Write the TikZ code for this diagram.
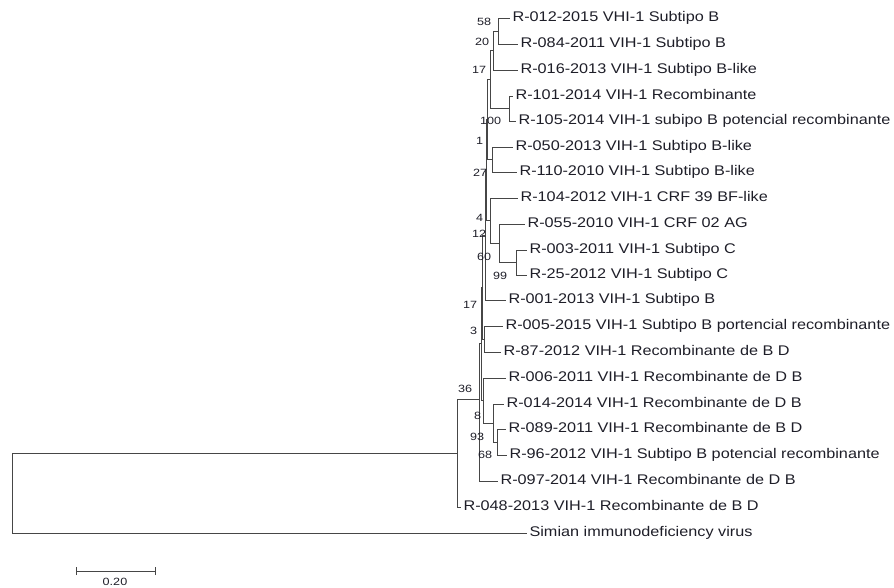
\documentclass[tikz,border=0pt]{standalone}
\usepackage{fontspec}
\setmainfont{Liberation Sans}
\definecolor{linec}{RGB}{70,70,70}
\definecolor{textc}{RGB}{30,30,40}
\begin{document}
\begin{tikzpicture}[x=1pt,y=-1pt,
  leaf/.style={anchor=west,inner sep=2pt,text height=10pt,text depth=3pt,text=textc,font=\fontsize{14}{16}\selectfont,xscale=1.16},
  bs/.style={anchor=east,inner sep=0.5pt,text=textc,font=\fontsize{10.5}{12}\selectfont,xscale=1.2},
  br/.style={draw=linec,line width=0.9pt}]
\useasboundingbox (0,0) rectangle (894,588);
% leaves
\node[leaf] (l1) at (510,18) {R-012-2015 VHI-1 Subtipo B};
\node[leaf] (l2) at (518,44) {R-084-2011 VIH-1 Subtipo B};
\node[leaf] (l3) at (518,70) {R-016-2013 VIH-1 Subtipo B-like};
\node[leaf] (l4) at (513,96) {R-101-2014 VIH-1 Recombinante};
\node[leaf] (l5) at (516,121) {R-105-2014 VIH-1 subipo B potencial recombinante};
\node[leaf] (l6) at (513,147) {R-050-2013 VIH-1 Subtipo B-like};
\node[leaf] (l7) at (517,172) {R-110-2010 VIH-1 Subtipo B-like};
\node[leaf] (l8) at (518,198) {R-104-2012 VIH-1 CRF 39 BF-like};
\node[leaf] (l9) at (525,224) {R-055-2010 VIH-1 CRF 02 AG};
\node[leaf] (l10) at (527,250) {R-003-2011 VIH-1 Subtipo C};
\node[leaf] (l11) at (527,275) {R-25-2012 VIH-1 Subtipo C};
\node[leaf] (l12) at (506,300) {R-001-2013 VIH-1 Subtipo B};
\node[leaf] (l13) at (503,326) {R-005-2015 VIH-1 Subtipo B portencial recombinante};
\node[leaf] (l14) at (501,352) {R-87-2012 VIH-1 Recombinante de B D};
\node[leaf] (l15) at (506,378) {R-006-2011 VIH-1 Recombinante de D B};
\node[leaf] (l16) at (504,404) {R-014-2014 VIH-1 Recombinante de D B};
\node[leaf] (l17) at (506,429) {R-089-2011 VIH-1 Recombinante de B D};
\node[leaf] (l18) at (507,455) {R-96-2012 VIH-1 Subtipo B potencial recombinante};
\node[leaf] (l19) at (498,481) {R-097-2014 VIH-1 Recombinante de D B};
\node[leaf] (l20) at (461,507) {R-048-2013 VIH-1 Recombinante de B D};
\node[leaf] (l21) at (527,533) {Simian immunodeficiency virus};
% internal nodes
\coordinate (n58) at (498,31);
\coordinate (n20) at (493,50.5);
\coordinate (n100) at (509,108.5);
\coordinate (n17a) at (490,79.5);
\coordinate (n27) at (492,159.5);
\coordinate (n1) at (487.5,119.5);
\coordinate (n99) at (516,262.5);
\coordinate (n60) at (499,243);
\coordinate (n12) at (490,220.5);
\coordinate (n4) at (486,170);
\coordinate (n17b) at (485,235);
\coordinate (n3) at (484,339);
\coordinate (n68) at (497,442);
\coordinate (n93) at (493,423);
\coordinate (n8) at (483,400.5);
\coordinate (nP) at (482,287);
\coordinate (nQ) at (481,343.75);
\coordinate (nR) at (479.5,412);
\coordinate (nRj) at (479.5,399);
\coordinate (n36) at (457,453);
\coordinate (root) at (12,493);
% branches
\draw[br] (n58) |- (l1.west);
\draw[br] (n58) |- (l2.west);
\draw[br] (n20) |- (n58);
\draw[br] (n20) |- (l3.west);
\draw[br] (n100) |- (l4.west);
\draw[br] (n100) |- (l5.west);
\draw[br] (n17a) |- (n20);
\draw[br] (n17a) |- (n100);
\draw[br] (n27) |- (l6.west);
\draw[br] (n27) |- (l7.west);
\draw[br] (n1) |- (n17a);
\draw[br] (n1) |- (n27);
\draw[br] (n99) |- (l10.west);
\draw[br] (n99) |- (l11.west);
\draw[br] (n60) |- (l9.west);
\draw[br] (n60) |- (n99);
\draw[br] (n12) |- (l8.west);
\draw[br] (n12) |- (n60);
\draw[br] (n4) |- (n1);
\draw[br] (n4) |- (n12);
\draw[br] (n17b) |- (n4);
\draw[br] (n17b) |- (l12.west);
\draw[br] (n3) |- (l13.west);
\draw[br] (n3) |- (l14.west);
\draw[br] (n68) |- (l17.west);
\draw[br] (n68) |- (l18.west);
\draw[br] (n93) |- (l16.west);
\draw[br] (n93) |- (n68);
\draw[br] (n8) |- (l15.west);
\draw[br] (n8) |- (n93);
\draw[br] (nP) |- (n17b);
\draw[br] (nP) |- (n3);
\draw[br] (nQ) |- (nP);
\draw[br] (nQ) |- (n8);
\draw[br] (nR) |- (nQ);
\draw[br] (nR) |- (l19.west);
\draw[br] (n36) |- (nRj);
\draw[br] (n36) |- (l20.west);
\draw[br] (root) |- (n36);
\draw[br] (root) |- (l21.west);
% bootstrap values
\node[bs] (b58) at (492,22) {58};
\node[bs] (b20) at (490,42) {20};
\node[bs] (b17a) at (487,70) {17};
\node[bs] (b100) at (502,121) {100};
\node[bs] (b1) at (484,141) {1};
\node[bs] (b27) at (488,173) {27};
\node[bs] (b4) at (484,218) {4};
\node[bs] (b12) at (487,234) {12};
\node[bs] (b60) at (492,257) {60};
\node[bs] (b99) at (508,276) {99};
\node[bs] (b17b) at (478,305) {17};
\node[bs] (b3) at (478,331) {3};
\node[bs] (b36) at (473,389) {36};
\node[bs] (b8) at (482,416) {8};
\node[bs] (b93) at (485,437) {93};
\node[bs] (b68) at (493,455) {68};
% scale bar
\coordinate (s1) at (76,571);
\coordinate (s2) at (155,571);
\draw[br] (s1) -- (s2);
\draw[br] ([yshift=-4pt]s1) -- ([yshift=4pt]s1);
\draw[br] ([yshift=-4pt]s2) -- ([yshift=4pt]s2);
\node[text=textc,font=\fontsize{10.5}{12}\selectfont,xscale=1.2,inner sep=0pt] (sl) at (115,582) {0.20};
\end{tikzpicture}
\end{document}
